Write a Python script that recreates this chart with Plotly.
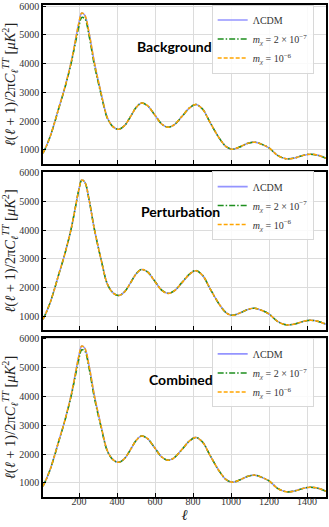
import plotly.graph_objects as go
from plotly.subplots import make_subplots

# multipoles
ell = [10, 30, 50, 73, 95, 120, 140, 160, 182, 200, 214, 230, 253, 280, 315, 350, 380, 409,
       440, 470, 500, 528, 560, 600, 635, 668, 700, 740, 780, 814, 850, 890, 938, 975, 1008,
       1045, 1085, 1123, 1160, 1200, 1245, 1291, 1335, 1380, 1418, 1460, 1500]

# LCDM D_ell [muK^2]
lcdm = [885, 1170, 1510, 2000, 2500, 3050, 3550, 4100, 4850, 5450, 5755, 5680, 5050, 4050, 3000,
        2100, 1800, 1716, 1850, 2150, 2470, 2627, 2540, 2200, 1900, 1790, 1870, 2150, 2450, 2580,
        2420, 1950, 1410, 1110, 1025, 1100, 1220, 1270, 1200, 1070, 810, 690, 720, 810, 850, 810, 710]

# m_chi = 2e-7, one list per panel
green_bg = [885, 1170, 1505, 1990, 2490, 3030, 3520, 4060, 4760, 5320, 5600, 5560, 4950, 3960, 2950,
            2080, 1795, 1716, 1850, 2150, 2470, 2627, 2540, 2200, 1900, 1790, 1870, 2150, 2450, 2580,
            2420, 1950, 1410, 1110, 1025, 1100, 1220, 1270, 1200, 1070, 810, 690, 720, 810, 850, 810, 710]
green_pert = [885, 1170, 1510, 2000, 2500, 3050, 3550, 4100, 4850, 5450, 5750, 5680, 5050, 4050, 3000,
              2100, 1800, 1716, 1850, 2150, 2470, 2627, 2545, 2205, 1905, 1795, 1875, 2160, 2460, 2590,
              2425, 1950, 1410, 1110, 1025, 1100, 1220, 1270, 1200, 1070, 810, 690, 720, 810, 850, 810, 710]
green_comb = [885, 1170, 1505, 1990, 2490, 3035, 3525, 4065, 4770, 5340, 5625, 5580, 4965, 3970, 2955,
              2085, 1795, 1716, 1850, 2150, 2470, 2627, 2540, 2200, 1900, 1790, 1870, 2150, 2450, 2580,
              2420, 1950, 1410, 1110, 1025, 1100, 1220, 1270, 1200, 1070, 810, 690, 720, 810, 850, 810, 710]

# m_chi = 1e-6 (sits on LCDM)
orange = lcdm

panels = ["Background", "Perturbation", "Combined"]
greens = [green_bg, green_pert, green_comb]
label_x = [492, 515, 557]
label_y = [4600, 4650, 4600]

fig = make_subplots(rows=3, cols=1, shared_xaxes=True, vertical_spacing=0.015)

ytitle = "<i>ℓ</i>(<i>ℓ</i> + 1)/2π<i>C</i><sub><i>ℓ</i></sub><sup><i>TT</i></sup> [<i>μK</i><sup>2</sup>]"
domains = [[0.6768, 1.0], [0.3394, 0.6606], [0.0, 0.3232]]
leg_y = [1.001, 0.6624, 0.3224]
serif = "Liberation Serif"

for i in range(3):
    r = i + 1
    leg = "legend" if i == 0 else "legend%d" % r
    fig.add_trace(go.Scatter(x=ell, y=lcdm, mode="lines", line_shape="spline",
                             line=dict(color="#9494ff", width=1.6), name="ΛCDM", legend=leg), row=r, col=1)
    fig.add_trace(go.Scatter(x=ell, y=greens[i], mode="lines", line_shape="spline",
                             line=dict(color="#1e8f1e", width=1.5, dash="6px,2px,1.5px,2px"),
                             name="<i>m</i><sub><i>χ</i></sub> = 2 × 10<sup>−7</sup>", legend=leg), row=r, col=1)
    fig.add_trace(go.Scatter(x=ell, y=orange, mode="lines", line_shape="spline",
                             line=dict(color="orange", width=1.5, dash="4px,2px"),
                             name="<i>m</i><sub><i>χ</i></sub> = 10<sup>−6</sup>", legend=leg), row=r, col=1)

    fig.update_yaxes(row=r, col=1, range=[510, 6035], domain=domains[i], automargin=False,
                     tickvals=[1000, 2000, 3000, 4000, 5000, 6000],
                     showgrid=True, gridcolor="#dcdcdc", gridwidth=1,
                     showline=True, linecolor="black", linewidth=1.5, mirror=True,
                     ticks="inside", ticklen=3, tickcolor="black",
                     tickfont=dict(family=serif, size=10, color="#333"),
                     title=dict(text=ytitle, font=dict(family=serif, size=14.5, color="#222"), standoff=3),
                     zeroline=False)
    fig.update_xaxes(row=r, col=1, range=[10, 1500], automargin=False,
                     tickvals=[200, 400, 600, 800, 1000, 1200, 1400],
                     showgrid=True, gridcolor="#dcdcdc", gridwidth=1,
                     showline=True, linecolor="black", linewidth=1.5, mirror=True,
                     ticks="inside", ticklen=4, tickcolor="black",
                     tickfont=dict(family=serif, size=10, color="#333"),
                     zeroline=False)

    xref = "x" if i == 0 else "x%d" % r
    yref = "y" if i == 0 else "y%d" % r
    fig.add_annotation(x=label_x[i], y=label_y[i], xref=xref, yref=yref, text="<b>%s</b>" % panels[i],
                       showarrow=False, xanchor="left", yanchor="middle",
                       font=dict(family="Lato", size=14, color="black"))

    fig.update_layout(**{leg: dict(x=0.596, y=leg_y[i], xanchor="left", yanchor="top",
                                   bgcolor="rgba(255,255,255,0.85)", bordercolor="#d8d8d8", borderwidth=1,
                                   font=dict(family=serif, size=10, color="#333"),
                                   tracegroupgap=0, itemwidth=30)})

fig.update_xaxes(row=3, col=1, ticklabelstandoff=-6,
                 title=dict(text="<i>ℓ</i>", font=dict(family=serif, size=15, color="#222"), standoff=0))

fig.update_layout(width=329, height=527, margin=dict(l=43, r=3, t=5, b=30, autoexpand=False),
                  plot_bgcolor="white", paper_bgcolor="white", showlegend=True)

# page body has a default margin; drop it so the figure sits at the window corner
fig.write_html("out.html", config={"displayModeBar": False},
               post_script="document.body.style.margin='0';")
